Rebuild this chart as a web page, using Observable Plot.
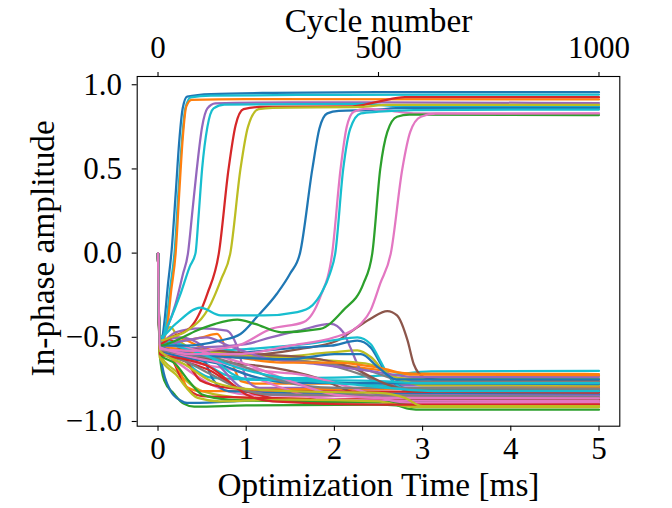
<!DOCTYPE html>
<html><head><meta charset="utf-8">
<script src="https://cdn.jsdelivr.net/npm/d3@7"></script>
<script src="https://cdn.jsdelivr.net/npm/@observablehq/plot@0.6"></script>
<style>body{margin:0;background:#fff}</style>
</head><body><div id="chart"></div>
<script>
// ---- data (time in ms, in-phase amplitude) ----
const timeTicks = [0, 1, 2, 3, 4, 5];
const cycleTicks = [0, 500, 1000];
const cyclesPerMs = 200;
const ampTicks = [-1.0, -0.5, 0.0, 0.5, 1.0];
const xLabel = "Optimization Time [ms]";
const topLabel = "Cycle number";
const yLabel = "In-phase amplitude";

const tab10 = {blue:"#1f77b4", orange:"#ff7f0e", green:"#2ca02c", red:"#d62728", purple:"#9467bd",
  brown:"#8c564b", pink:"#e377c2", gray:"#7f7f7f", olive:"#bcbd22", cyan:"#17becf"};

// trajectories that settle in the lower (negative) state
const lowColors = ["cyan","orange","olive","brown","orange","purple","blue","cyan","purple","green",
  "blue","olive","red","gray","pink","orange","cyan","blue","red","gray",
  "olive","pink","brown","purple","green","red","blue","cyan","pink","gray",
  "olive","brown","purple","orange","red","gray","pink","blue","olive","cyan"];
const lowCurves = [
  [[0,0],[0.02,-0.5],[0.25,-0.56],[0.5,-0.64],[0.75,-0.72],[1.0,-0.745],[2.0,-0.74],[2.6,-0.725],[3.1,-0.703],[5,-0.70]],
  [[0,0],[0.02,-0.52],[0.2,-0.5],[0.5,-0.56],[1.0,-0.62],[1.6,-0.64],[2.3,-0.68],[2.9,-0.715],[5,-0.718]],
  [[0,0],[0.02,-0.5],[0.14,-0.44],[0.26,-0.53],[0.6,-0.6],[1.2,-0.62],[1.96,-0.59],[2.26,-0.578],[2.42,-0.62],[2.6,-0.72],[2.8,-0.744],[5,-0.744]],
  [[0,0],[0.02,-0.6],[0.5,-0.62],[1.2,-0.6],[1.6,-0.57],[2.03,-0.52],[2.26,-0.44],[2.41,-0.39],[2.6,-0.344],[2.71,-0.37],[2.83,-0.52],[2.9,-0.66],[3.01,-0.735],[3.2,-0.755],[5,-0.76]],
  [[0,0],[0.02,-0.55],[0.3,-0.52],[0.5,-0.5],[0.67,-0.48],[0.78,-0.58],[0.86,-0.68],[0.94,-0.76],[1.1,-0.775],[5,-0.776]],
  [[0,0],[0.02,-0.57],[0.5,-0.56],[1.0,-0.54],[1.28,-0.5],[1.6,-0.46],[1.96,-0.42],[2.1,-0.47],[2.18,-0.56],[2.3,-0.70],[2.41,-0.75],[2.6,-0.785],[5,-0.792]],
  [[0,0],[0.02,-0.58],[0.6,-0.6],[1.2,-0.58],[1.6,-0.56],[1.96,-0.55],[2.26,-0.52],[2.41,-0.56],[2.55,-0.68],[2.7,-0.78],[2.85,-0.805],[5,-0.808]],
  [[0,0],[0.02,-0.54],[0.4,-0.58],[1.0,-0.57],[1.5,-0.55],[1.96,-0.52],[2.26,-0.5],[2.41,-0.54],[2.52,-0.64],[2.6,-0.716],[2.75,-0.8],[2.9,-0.83],[5,-0.835]],
  [[0,0],[0.02,-0.53],[0.2,-0.47],[0.48,-0.447],[0.78,-0.46],[0.9,-0.558],[1.01,-0.756],[1.15,-0.80],[5,-0.80]],
  [[0,0],[0.02,-0.6],[0.07,-0.756],[0.18,-0.835],[0.29,-0.894],[0.41,-0.912],[1.0,-0.905],[2.5,-0.9],[2.7,-0.905],[2.85,-0.925],[3.0,-0.93],[5,-0.93]],
  [[0,0],[0.02,-0.58],[0.14,-0.816],[0.255,-0.875],[0.33,-0.89],[0.86,-0.88],[1.5,-0.87],[3,-0.884],[5,-0.884]],
  [[0,0],[0.02,-0.6],[0.2,-0.7],[0.5,-0.82],[1.0,-0.86],[2.0,-0.87],[2.6,-0.875],[2.8,-0.9],[3.0,-0.905],[5,-0.905]],
  [[0,0],[0.02,-0.55],[0.15,-0.62],[0.3,-0.78],[0.5,-0.85],[1.2,-0.86],[2.8,-0.87],[5,-0.866]],
  [[0,0],[0.02,-0.58],[0.3,-0.6],[0.9,-0.61],[1.4,-0.63],[1.9,-0.66],[2.3,-0.72],[2.7,-0.8],[3.0,-0.82],[5,-0.823]],
  [[0,0],[0.02,-0.56],[0.25,-0.66],[0.6,-0.78],[1.0,-0.84],[2,-0.85],[5,-0.851]],
  [[0,0],[0.02,-0.53],[0.15,-0.62],[0.255,-0.71],[0.33,-0.796],[0.5,-0.82],[1.5,-0.81],[5,-0.798]],
  [[0,0],[0.02,-0.5],[0.2,-0.58],[0.44,-0.70],[0.6,-0.74],[1.0,-0.75],[1.8,-0.76],[2.6,-0.79],[3.0,-0.81],[5,-0.81]],
  [[0,0],[0.02,-0.55],[0.3,-0.58],[0.5,-0.62],[0.63,-0.756],[0.8,-0.82],[1.5,-0.83],[5,-0.84]],
  [[0,0],[0.02,-0.57],[0.3,-0.64],[0.6,-0.7],[0.9,-0.8],[1.2,-0.85],[1.6,-0.88],[2.2,-0.885],[2.8,-0.875],[5,-0.872]],
  [[0,0],[0.02,-0.6],[0.4,-0.6],[0.93,-0.62],[1.5,-0.64],[2.0,-0.66],[2.4,-0.7],[2.8,-0.76],[5,-0.765]],
  [[0,0],[0.02,-0.54],[0.4,-0.58],[0.9,-0.6],[1.5,-0.62],[2.0,-0.64],[2.4,-0.66],[2.75,-0.75],[3.0,-0.785],[5,-0.785]],
  [[0,0],[0.02,-0.59],[0.2,-0.62],[0.5,-0.66],[0.9,-0.7],[1.3,-0.78],[1.8,-0.86],[2.4,-0.875],[5,-0.879]],
  [[0,0],[0.02,-0.56],[0.3,-0.6],[0.8,-0.65],[1.3,-0.68],[1.8,-0.74],[2.3,-0.84],[2.8,-0.862],[5,-0.865]],
  [[0,0],[0.02,-0.52],[0.25,-0.5],[0.5,-0.55],[0.75,-0.7],[0.95,-0.8],[1.3,-0.84],[5,-0.846]],
  [[0,0],[0.02,-0.6],[0.2,-0.66],[0.35,-0.76],[0.5,-0.84],[0.8,-0.87],[1.5,-0.88],[2.6,-0.885],[2.9,-0.894],[5,-0.894]],
  [[0,0],[0.02,-0.55],[0.14,-0.52],[0.37,-0.68],[0.48,-0.756],[0.8,-0.8],[1.5,-0.82],[5,-0.828]],
  [[0,0],[0.02,-0.57],[0.3,-0.62],[0.7,-0.66],[1.0,-0.72],[1.5,-0.77],[5,-0.778]],
  [[0,0],[0.02,-0.5],[0.3,-0.55],[0.6,-0.62],[0.85,-0.72],[1.0,-0.75],[2.5,-0.76],[3.0,-0.772],[5,-0.772]],
  [[0,0],[0.02,-0.56],[0.4,-0.62],[0.8,-0.66],[1.2,-0.7],[1.6,-0.72],[2.2,-0.8],[2.6,-0.87],[2.9,-0.889],[5,-0.889]],
  [[0,0],[0.02,-0.59],[0.3,-0.64],[0.6,-0.72],[0.9,-0.8],[1.3,-0.84],[5,-0.856]],
  [[0,0],[0.02,-0.62],[0.2,-0.72],[0.45,-0.86],[0.7,-0.88],[1.5,-0.87],[2.5,-0.88],[2.75,-0.905],[2.95,-0.915],[5,-0.915]],
  [[0,0],[0.02,-0.58],[0.3,-0.57],[0.7,-0.58],[1.1,-0.6],[1.7,-0.62],[2.2,-0.68],[2.6,-0.78],[2.9,-0.816],[5,-0.816]],
  [[0,0],[0.02,-0.55],[0.3,-0.52],[0.55,-0.5],[0.8,-0.55],[1.2,-0.62],[1.8,-0.66],[2.4,-0.7],[2.9,-0.735],[5,-0.735]],
  [[0,0],[0.02,-0.54],[0.3,-0.58],[0.9,-0.62],[1.4,-0.65],[2.0,-0.65],[2.5,-0.68],[2.9,-0.722],[5,-0.725]],
  [[0,0],[0.02,-0.6],[0.3,-0.63],[0.6,-0.68],[0.8,-0.76],[1.0,-0.84],[1.3,-0.88],[2.5,-0.9],[5,-0.899]],
  [[0,0],[0.02,-0.57],[0.3,-0.6],[0.7,-0.63],[1.0,-0.68],[1.4,-0.76],[2.0,-0.8],[5,-0.805]],
  [[0,0],[0.02,-0.54],[0.3,-0.56],[0.6,-0.6],[1.0,-0.66],[1.5,-0.76],[2.0,-0.84],[2.6,-0.86],[5,-0.862]],
  [[0,0],[0.02,-0.56],[0.4,-0.6],[0.9,-0.62],[1.5,-0.63],[2.0,-0.6],[2.3,-0.6],[2.5,-0.68],[2.7,-0.75],[5,-0.75]],
  [[0,0],[0.02,-0.58],[0.3,-0.66],[0.6,-0.76],[0.9,-0.8],[1.5,-0.82],[2.5,-0.83],[2.8,-0.86],[3.0,-0.909],[5,-0.909]],
  [[0,0],[0.02,-0.52],[0.2,-0.55],[0.5,-0.6],[0.9,-0.68],[1.4,-0.74],[2.2,-0.78],[2.8,-0.81],[3.2,-0.82],[5,-0.82]]
];

// trajectories that switch to the upper (positive) state
const upColors = ["blue","cyan","orange","purple","cyan","red","olive","blue","pink","cyan","green","pink"];
const upCurves = [
  [[0,0],[0.02,-0.56],[0.07,-0.42],[0.11,-0.2],[0.155,0.02],[0.2,0.35],[0.24,0.66],[0.28,0.86],[0.33,0.93],[0.6,0.945],[1.3,0.952],[2.5,0.956],[5,0.956]],
  [[0,0],[0.02,-0.54],[0.09,-0.42],[0.14,-0.2],[0.19,0.02],[0.23,0.35],[0.27,0.66],[0.31,0.86],[0.37,0.925],[0.6,0.935],[2,0.94],[5,0.942]],
  [[0,0],[0.02,-0.55],[0.1,-0.45],[0.15,-0.22],[0.2,0.0],[0.24,0.35],[0.28,0.68],[0.32,0.87],[0.38,0.91],[1,0.915],[5,0.913]],
  [[0,0],[0.02,-0.54],[0.1,-0.45],[0.2,-0.3],[0.28,-0.13],[0.34,0.0],[0.39,0.25],[0.44,0.5],[0.5,0.75],[0.56,0.86],[0.65,0.89],[1.5,0.895],[2.5,0.895],[5,0.891]],
  [[0,0],[0.02,-0.53],[0.12,-0.42],[0.25,-0.25],[0.36,-0.08],[0.425,0],[0.46,0.22],[0.5,0.5],[0.56,0.75],[0.63,0.86],[0.75,0.882],[2.3,0.887],[2.7,0.875],[5,0.871]],
  [[0,0],[0.02,-0.54],[0.15,-0.5],[0.37,-0.44],[0.56,-0.24],[0.69,0],[0.8,0.5],[0.88,0.76],[0.97,0.855],[1.15,0.868],[2.2,0.871],[2.5,0.9],[2.8,0.926],[5,0.926]],
  [[0,0],[0.02,-0.52],[0.15,-0.5],[0.3,-0.47],[0.6,-0.3],[0.72,-0.15],[0.82,0],[0.935,0.5],[1.02,0.75],[1.14,0.855],[1.3,0.863],[2.3,0.868],[2.6,0.88],[5,0.88]],
  [[0,0],[0.02,-0.55],[0.3,-0.55],[0.7,-0.52],[0.935,-0.48],[1.12,-0.38],[1.35,-0.24],[1.5,-0.12],[1.61,0],[1.75,0.5],[1.83,0.74],[1.92,0.83],[2.05,0.845],[2.4,0.85],[2.8,0.862],[5,0.862]],
  [[0,0],[0.02,-0.57],[0.4,-0.58],[0.9,-0.55],[1.28,-0.45],[1.65,-0.41],[1.84,-0.26],[1.975,0],[2.07,0.5],[2.14,0.75],[2.22,0.84],[2.35,0.857],[2.6,0.848],[2.9,0.83],[5,0.828]],
  [[0,0],[0.02,-0.5],[0.2,-0.42],[0.48,-0.324],[0.71,-0.37],[1.2,-0.37],[1.58,-0.35],[1.75,-0.31],[1.86,-0.23],[1.95,-0.12],[2.01,0],[2.1,0.5],[2.18,0.74],[2.3,0.83],[2.5,0.84],[2.9,0.85],[5,0.853]],
  [[0,0],[0.02,-0.55],[0.2,-0.52],[0.44,-0.46],[0.65,-0.42],[0.9,-0.395],[1.1,-0.42],[1.4,-0.47],[1.84,-0.45],[2.1,-0.34],[2.33,-0.18],[2.43,0],[2.52,0.5],[2.6,0.72],[2.71,0.81],[2.85,0.822],[5,0.82]],
  [[0,0],[0.02,-0.56],[0.4,-0.6],[0.9,-0.6],[1.5,-0.55],[2.0,-0.5],[2.2,-0.46],[2.3,-0.42],[2.41,-0.34],[2.52,-0.18],[2.64,0],[2.77,0.5],[2.86,0.72],[2.98,0.81],[3.15,0.828],[5,0.83]]
];

// ---- chart ----
const lineMark = (pts, c) => Plot.line(pts, {x: d => d[0], y: d => d[1], stroke: tab10[c],
  strokeWidth: 2.25, curve: "monotone-x"});
const lines = [
  ...lowCurves.map((p, i) => lineMark(p, lowColors[i])),
  ...upCurves.map((p, i) => lineMark(p, upColors[i]))
];

const chart = Plot.plot({
  width: 672, height: 508,
  marginLeft: 136.7, marginRight: 52.7, marginTop: 76, marginBottom: 82.3,
  style: {fontFamily: "'Liberation Serif', 'Times New Roman', serif", background: "white", color: "black", overflow: "visible"},
  x: {domain: [-0.236, 5.236]},
  y: {domain: [-1.028, 1.049]},
  marks: [
    ...lines,
    Plot.frame({stroke: "black", strokeWidth: 1.1}),
    Plot.axisX({ticks: timeTicks, tickFormat: d3.format("d"), tickSize: 5, tickPadding: 5.6,
      fontSize: 31, label: null, strokeWidth: 1.1}),
    Plot.axisX({anchor: "top", ticks: cycleTicks.map(c => c / cyclesPerMs),
      tickFormat: t => d3.format("d")(Math.round(t * cyclesPerMs)), tickSize: 5, tickPadding: 13.3,
      fontSize: 31, label: null, strokeWidth: 1.1}),
    Plot.axisY({ticks: ampTicks, tickFormat: d3.format(".1f"), tickSize: 5, tickPadding: 10.2,
      fontSize: 31, label: null, strokeWidth: 1.1}),
    Plot.text([xLabel], {text: d => d, frameAnchor: "bottom", dy: 69.3, lineAnchor: "bottom", fontSize: 33.3}),
    Plot.text([topLabel], {text: d => d, frameAnchor: "top", dy: -44.8, lineAnchor: "bottom", fontSize: 33.3}),
    Plot.text([yLabel], {text: d => d, frameAnchor: "left", dx: -94.1, dy: -3, rotate: -90,
      textAnchor: "middle", lineAnchor: "middle", fontSize: 33.3})
  ]
});
document.getElementById("chart").appendChild(chart);
</script>
</body></html>
